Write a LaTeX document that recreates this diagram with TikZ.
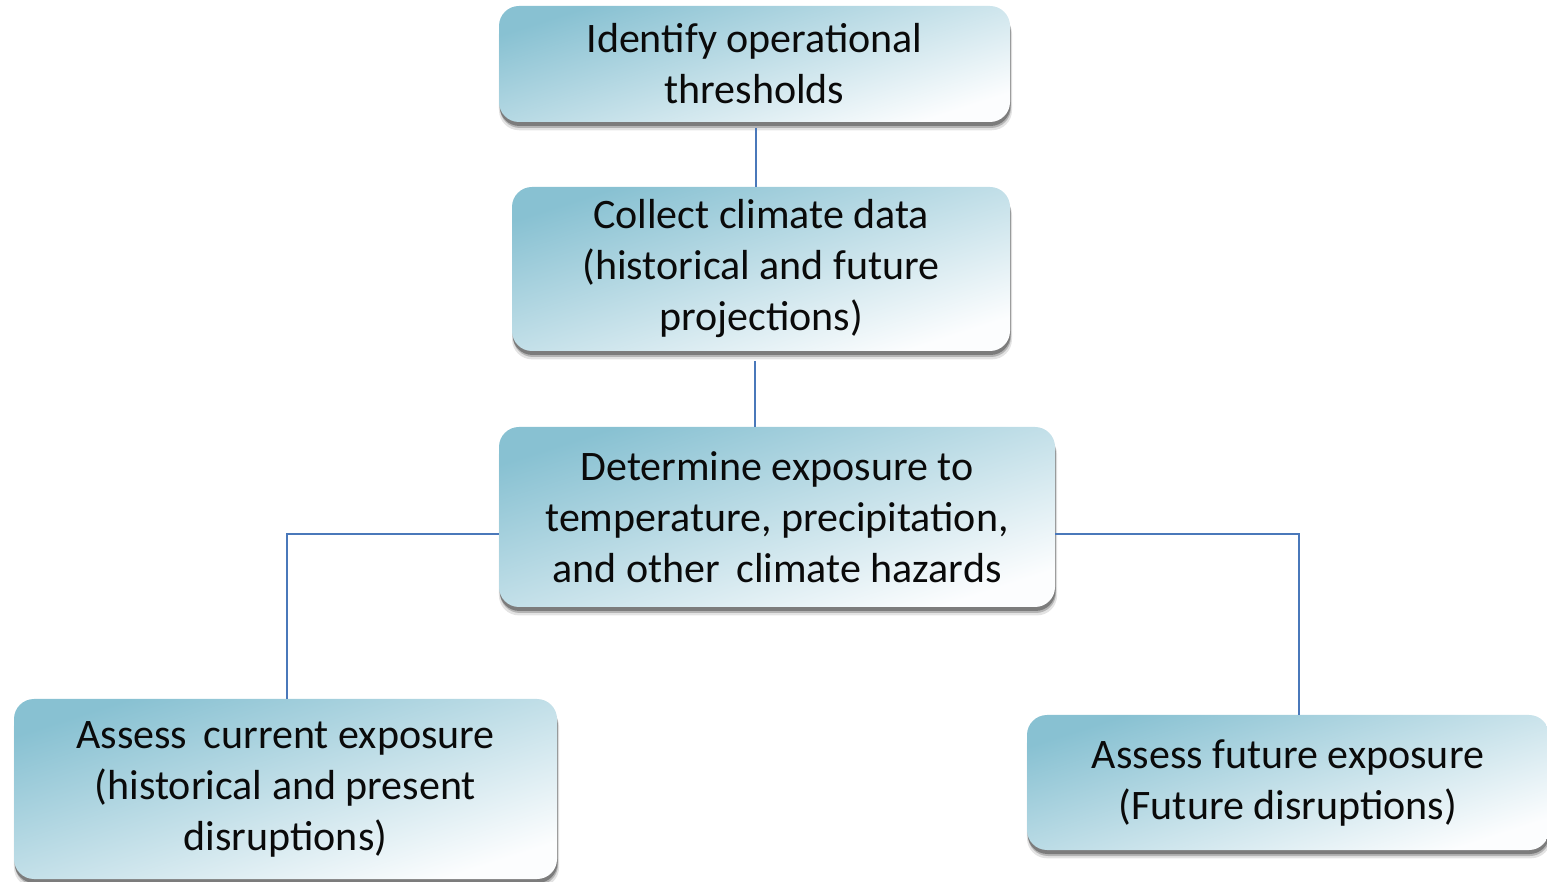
\documentclass[tikz,border=0pt]{standalone}
\usepackage{fontspec}
\setmainfont{Carlito}
\usetikzlibrary{positioning,shadows}
\definecolor{stepfill}{RGB}{136,193,210}
\definecolor{stepfade}{RGB}{252,253,254}
\definecolor{shadowgray}{RGB}{70,70,70}
\definecolor{linkblue}{RGB}{74,120,186}
\definecolor{textdark}{RGB}{10,10,10}

\begin{document}
\begin{tikzpicture}[
  x=1pt,y=1pt,
  font=\fontsize{42}{51}\selectfont,
  text=textdark,
  link/.style={draw=linkblue,line width=2pt},
  stepbox/.style={rounded corners=20pt,align=center,inner sep=4pt,
    top color=stepfill,bottom color=stepfade,shading angle=18,
    general shadow={shadow xshift=1pt,shadow yshift=-8pt,shadow scale=1.004,
      fill=shadowgray,opacity=0.15},
    general shadow={shadow xshift=1pt,shadow yshift=-6pt,fill=shadowgray,opacity=0.3},
    general shadow={shadow xshift=0.5pt,shadow yshift=-4pt,fill=shadowgray,opacity=0.5}}
]
\useasboundingbox (0,0) rectangle (1547,881);

% -------------------------------------------------------------------------
% Main chain: thresholds, data, exposure.
% -------------------------------------------------------------------------
\node[stepbox,minimum width=511pt,minimum height=116pt] (thresh) at (754.5,817)
  {Identify operational\\thresholds};
\node[stepbox,minimum width=498pt,minimum height=164pt] (climdata) at (761,612)
  {Collect climate data\\(historical and future\\projections)};
\node[stepbox,minimum width=556pt,minimum height=180pt] (expose) at (777,364)
  {Determine exposure to\\temperature, precipitation,\\and other\, climate hazards};

% -------------------------------------------------------------------------
% Branches: current and future exposure.
% -------------------------------------------------------------------------
\node[stepbox,minimum width=543pt,minimum height=180pt] (current) at (285.5,92)
  {Assess\, current exposure\\(historical and present\\disruptions)};
\node[stepbox,minimum width=522pt,minimum height=135pt] (future) at (1288,98.5)
  {Assess future exposure\\(Future disruptions)};

\draw[link] ([xshift=1.5pt,yshift=-6pt]thresh.south) -- ([xshift=-5pt]climdata.north);
\draw[link] ([xshift=-6pt,yshift=-10pt]climdata.south) -- ([xshift=-22pt]expose.north);
\draw[link] ([yshift=-17pt]expose.west) -| ([xshift=1.5pt]current.north);
\draw[link] ([yshift=-17pt]expose.east) -| ([xshift=11pt]future.north);
\end{tikzpicture}
\end{document}
